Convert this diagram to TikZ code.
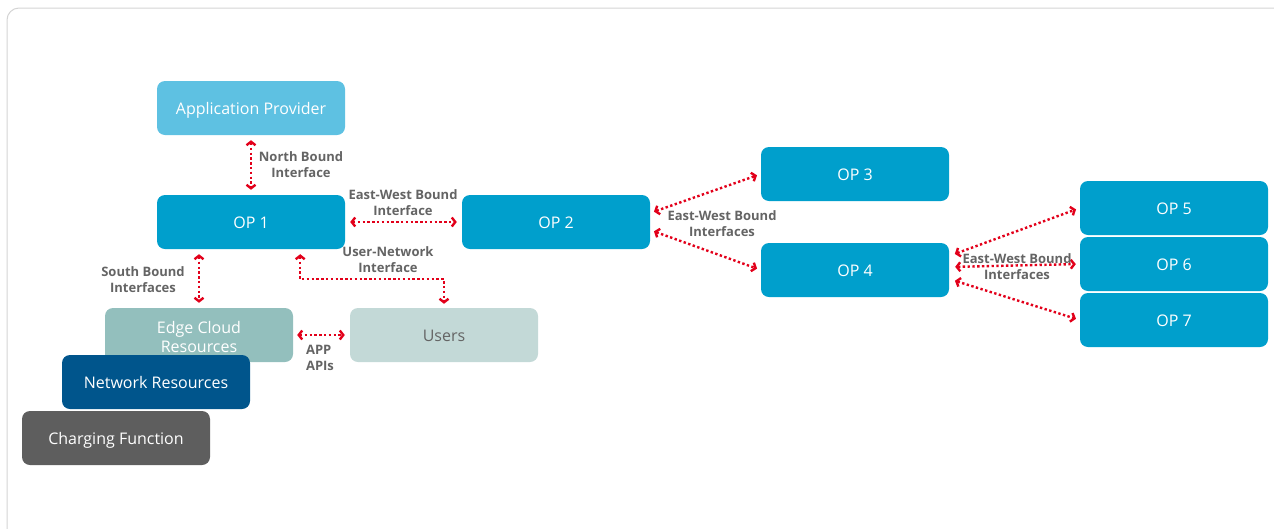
\documentclass[tikz,border=0pt]{standalone}
\usepackage{fontspec}
\setmainfont{Open Sans}
\usetikzlibrary{arrows.meta,positioning}
\definecolor{opBlue}{HTML}{009FCC}
\definecolor{appBlue}{HTML}{5EC1E2}
\definecolor{edgeTeal}{HTML}{93BFBD}
\definecolor{userGray}{HTML}{C3D9D7}
\definecolor{netBlue}{HTML}{00558C}
\definecolor{chargeGray}{HTML}{5E5E5E}
\definecolor{ifRed}{HTML}{E2001A}
\definecolor{lblGray}{HTML}{646464}
\definecolor{frameGray}{HTML}{D4D4D4}

\tikzset{
  box/.style={rounded corners=8pt, minimum width=188pt, minimum height=54pt,
    inner sep=0pt, text=white, align=center, text height=12pt, text depth=0pt,
    font=\fontsize{16}{19}\selectfont},
  iface/.style={draw=ifRed, line width=2.4pt, dash pattern=on 2.4pt off 2.4pt,
    {Straight Barb[length=3.5pt,width=9pt]}-{Straight Barb[length=3.5pt,width=9pt]},
    shorten <=5pt, shorten >=5pt},
  lbl/.style={text=lblGray, inner sep=0pt, align=center,
    font=\fontsize{13}{16}\selectfont\bfseries}
}

\begin{document}
\begin{tikzpicture}[x=1pt, y=-1pt]
  \useasboundingbox (0,0) rectangle (1274,528);
  % outer frame
  \draw[frameGray, line width=1pt, rounded corners=12pt] (7,8) rectangle (1300,560);
  % Boxes
  \node[box, fill=appBlue] (app) at (251,108) {Application Provider};
  \node[box, fill=opBlue] (op1) at (251,222) {OP 1};
  \node[box, fill=opBlue] (op2) at (556,222) {OP 2};
  \node[box, fill=opBlue] (op3) at (855,174) {OP 3};
  \node[box, fill=opBlue] (op4) at (855,270) {OP 4};
  \node[box, fill=opBlue] (op5) at (1174,208) {OP 5};
  \node[box, fill=opBlue] (op6) at (1174,264) {OP 6};
  \node[box, fill=opBlue] (op7) at (1174,320) {OP 7};
  \node[box, fill=edgeTeal, text height=34pt] (edge) at (199,335) {Edge Cloud\\Resources};
  \node[box, fill=userGray, text=lblGray] (users) at (444,335) {Users};
  \node[box, fill=netBlue] (net) at (156,382) {Network Resources};
  \node[box, fill=chargeGray] (charge) at (116,438) {Charging Function};
  % Interfaces
  \draw[iface] (app.south) -- (op1.north);
  \draw[iface] (op1.east) -- (op2.west);
  \draw[iface] (edge.north |- op1.south) -- (edge.north);
  \draw[iface, shorten >=4pt] ([xshift=-45pt]op1.south east) -- ++(0,30) -| (users.north);
  \draw[iface, shorten <=4pt, shorten >=5pt] (edge.east) -- (users.west);
  \draw[iface, shorten <=4pt, shorten >=4pt] ([yshift=9pt]op2.east) -- (op3.west);
  \draw[iface, shorten <=4pt, shorten >=4pt] ([yshift=-8pt]op2.east) -- (op4.west);
  \draw[iface, shorten <=6pt, shorten >=4pt] ([yshift=14pt]op4.east) -- (op5.west);
  \draw[iface, shorten <=6pt, shorten >=4pt] ([yshift=3pt]op4.east) -- (op6.west);
  \draw[iface, shorten <=6pt, shorten >=4pt] ([yshift=-9pt]op4.east) -- (op7.west);
  % Labels
  \node[lbl] (nbi) at (301,165) {North Bound\\Interface};
  \node[lbl] (ewi) at (403,203) {East-West Bound\\Interface};
  \node[lbl] (uni) at (388,260) {User-Network\\Interface};
  \node[lbl] (sbi) at (143,280) {South Bound\\Interfaces};
  \node[lbl, align=left] (api) at (320,358) {APP\\APIs};
  \node[lbl] (ewa) at (722,224) {East-West Bound\\Interfaces};
  \node[lbl] (ewb) at (1017,267) {East-West Bound\\Interfaces};
\end{tikzpicture}
\end{document}
